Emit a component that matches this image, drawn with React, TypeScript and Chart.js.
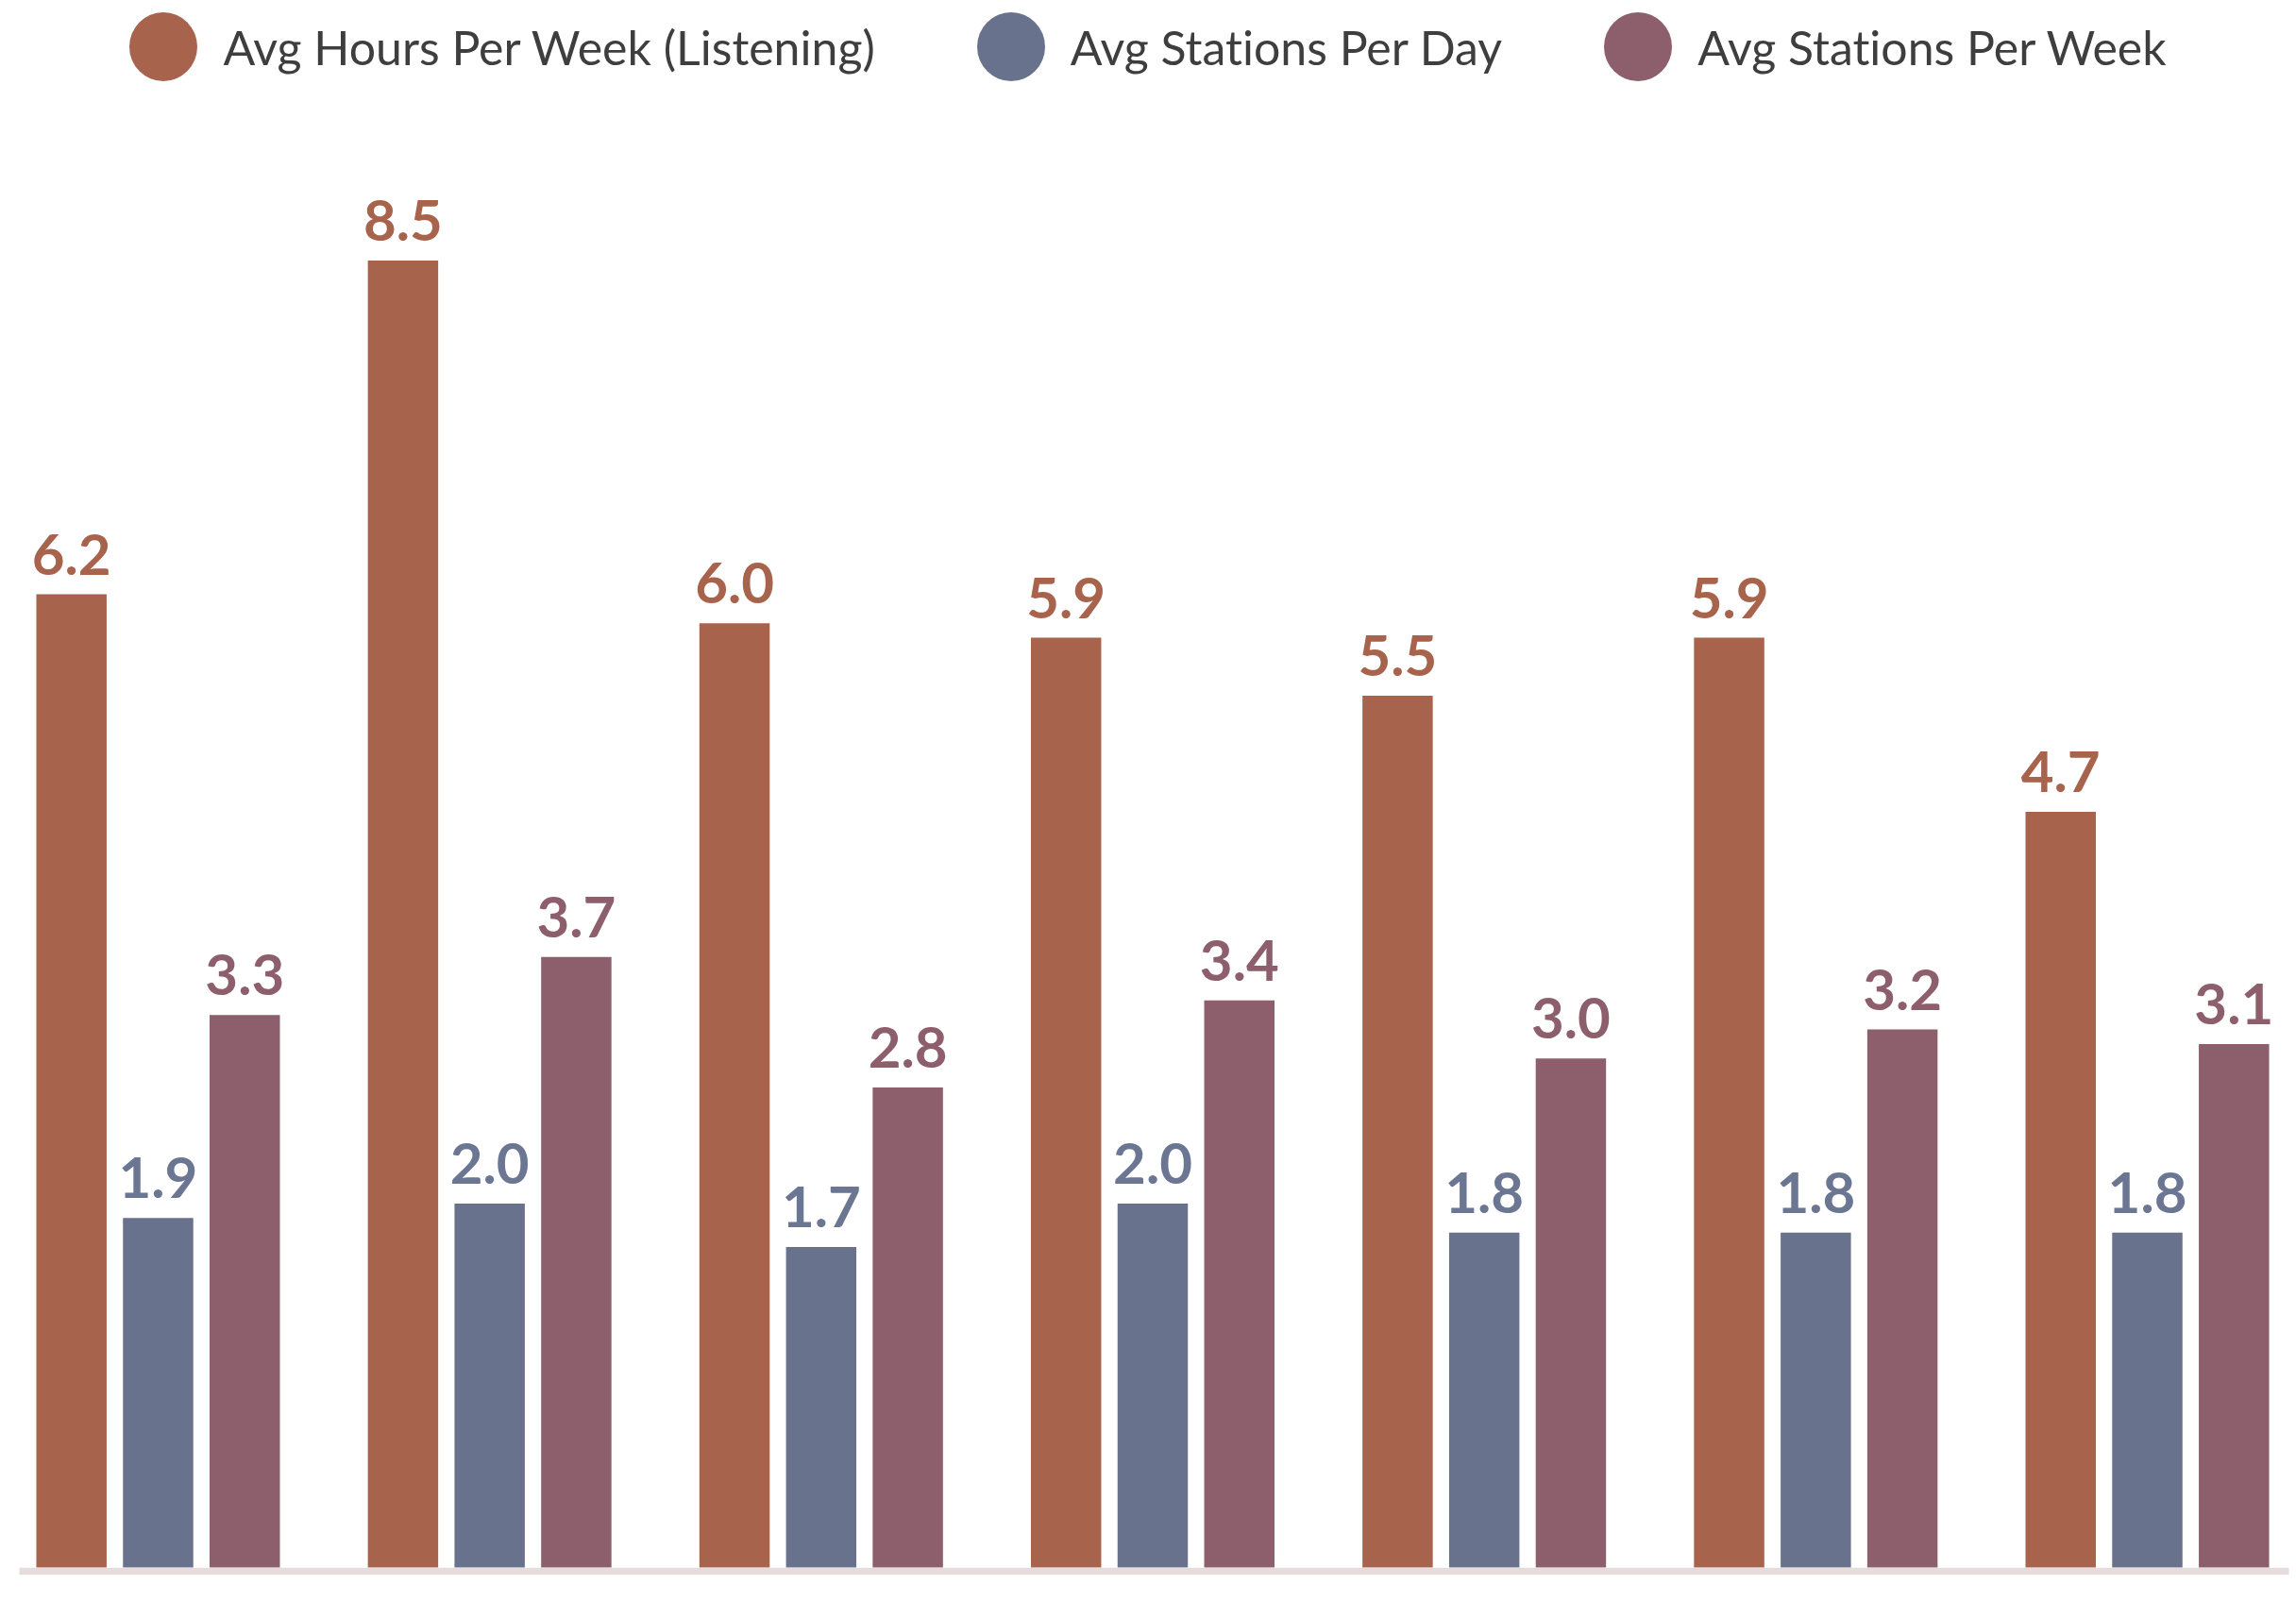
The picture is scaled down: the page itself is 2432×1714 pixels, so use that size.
import React, { useEffect, useRef } from "react";
import { Chart, registerables } from "chart.js";

Chart.register(...registerables);

// Category labels are cropped off in the reference, so they are kept hidden.
const CATEGORIES = ["Group 1", "Group 2", "Group 3", "Group 4", "Group 5", "Group 6", "Group 7"];
const SERIES_NAMES = ["Avg Hours Per Week (Listening)", "Avg Stations Per Day", "Avg Stations Per Week"];
const HOURS_PER_WEEK = [6.2, 8.5, 6.0, 5.9, 5.5, 5.9, 4.7];
const STATIONS_PER_DAY = [1.9, 2.0, 1.7, 2.0, 1.8, 1.8, 1.8];
const STATIONS_PER_WEEK = [3.3, 3.7, 2.8, 3.4, 3.0, 3.2, 3.1];
const BAR_COLORS = ["#A8634D", "#68728D", "#8D5E6B"];
const LABEL_COLORS = ["#A8634D", "#6B7693", "#8D5E6B"];
const Y_MIN = -0.51;
const Y_MAX = 9.0;

const FONT = "Lato, 'Noto Sans', sans-serif";

const valueLabels = {
  id: "valueLabels",
  afterDatasetsDraw(chart: any) {
    const ctx = chart.ctx;
    ctx.save();
    ctx.font = `bold 60px ${FONT}`;
    ctx.textAlign = "center";
    ctx.textBaseline = "alphabetic";
    chart.data.datasets.forEach((ds: any, i: number) => {
      const meta = chart.getDatasetMeta(i);
      meta.data.forEach((bar: any, j: number) => {
        ctx.fillStyle = LABEL_COLORS[i];
        ctx.fillText(Number(ds.data[j]).toFixed(1), bar.x, bar.y - 21);
      });
    });
    ctx.restore();
  },
};

const baseLine = {
  id: "baseLine",
  afterDatasetsDraw(chart: any) {
    const ctx = chart.ctx;
    const first = chart.getDatasetMeta(0).data[0];
    const lastMeta = chart.getDatasetMeta(chart.data.datasets.length - 1);
    const last = lastMeta.data[lastMeta.data.length - 1];
    if (!first || !last) return;
    const x0 = first.x - first.width / 2 - 18;
    const x1 = last.x + last.width / 2 + 21;
    const y = chart.scales.y.getPixelForValue(Y_MIN);
    ctx.save();
    ctx.fillStyle = "#E6DCDC";
    ctx.fillRect(x0, y, x1 - x0, 7.5);
    ctx.restore();
  },
};

export default function App() {
  const canvasRef = useRef<HTMLCanvasElement | null>(null);

  useEffect(() => {
    if (!canvasRef.current) return;
    const seriesData = [HOURS_PER_WEEK, STATIONS_PER_DAY, STATIONS_PER_WEEK];
    const chart = new Chart(canvasRef.current, {
      type: "bar",
      data: {
        labels: CATEGORIES,
        datasets: seriesData.map((d, i) => ({
          label: SERIES_NAMES[i],
          data: d,
          backgroundColor: BAR_COLORS[i],
          borderWidth: 0,
          base: Y_MIN,
          categoryPercentage: 0.784,
          barPercentage: 0.8115,
        })),
      },
      options: {
        animation: false,
        responsive: true,
        maintainAspectRatio: false,
        layout: { padding: { left: 31.9, right: 29.9, top: 199.2, bottom: 53.3 } },
        plugins: {
          legend: { display: false },
          tooltip: { enabled: false },
        },
        scales: {
          x: { display: false, offset: true, grid: { display: false } },
          y: { display: false, min: Y_MIN, max: Y_MAX, grid: { display: false } },
        },
      },
      plugins: [baseLine, valueLabels],
    });
    return () => chart.destroy();
  }, []);

  return (
    <div style={{ position: "fixed", left: 0, top: 0, width: 2432, height: 1714, overflow: "hidden", background: "#ffffff" }}>
      <div style={{ position: "absolute", left: -40, top: 0, width: 2520, height: 1714 }}>
        <canvas ref={canvasRef} />
      </div>
      <div
        style={{
          position: "absolute",
          left: 0,
          top: 13,
          width: 2432,
          height: 73,
          display: "flex",
          justifyContent: "center",
          alignItems: "center",
          gap: 108,
          fontFamily: FONT,
          fontSize: 50,
          fontVariantLigatures: "none",
          color: "#3E3E3E",
          zIndex: 2,
        }}
      >
        {SERIES_NAMES.map((name, i) => (
          <div key={name} style={{ display: "flex", alignItems: "center", whiteSpace: "nowrap" }}>
            <span
              style={{
                display: "inline-block",
                width: 72,
                height: 73,
                borderRadius: "50%",
                background: BAR_COLORS[i],
                marginRight: 27,
              }}
            />
            <span>{name}</span>
          </div>
        ))}
      </div>
    </div>
  );
}
